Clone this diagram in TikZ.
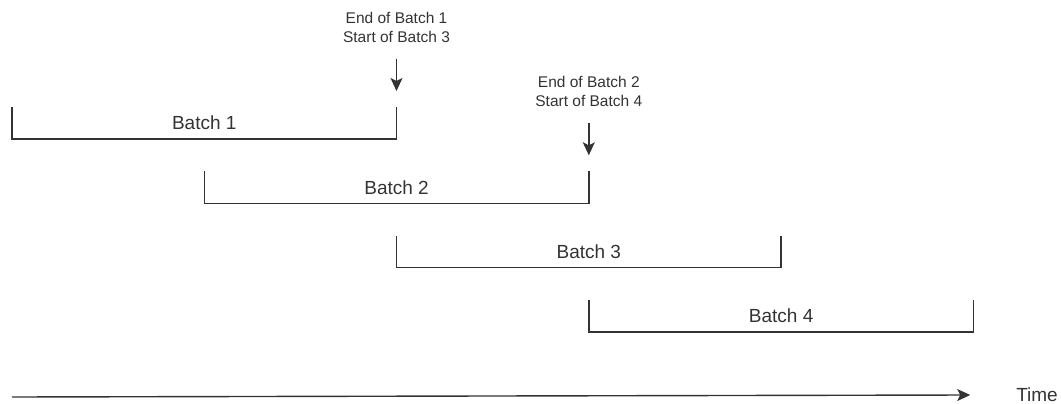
\documentclass[tikz,border=0pt]{standalone}
\usepackage{fontspec}
\setmainfont{Liberation Sans}
\usetikzlibrary{arrows.meta}

\begin{document}
\begin{tikzpicture}[x=1pt, y=-1pt, line width=1.4pt, color=black!80,
	batchlabel/.style={font=\fontsize{19}{23}\selectfont},
	marker/.style={font=\fontsize{15.5}{19}\selectfont, align=center},
	arrowtip/.style={-{Stealth[length=13pt, width=12pt, inset=3pt]}}]
	\useasboundingbox (0,0) rectangle (1061,404);
	%batches
	\foreach \i in {1,...,4}
	{
		\coordinate (start\i) at ({12+192.3*(\i-1)}, {107+64.3*(\i-1)});
		\draw (start\i) -- ++(0,32) -- ++(384.5,0) -- ++(0,-32) coordinate (end\i);
		\node[batchlabel] (batch\i) at ([shift={(192.25,16)}]start\i) {Batch \i};
	}
	%markers
	\node[marker] (mark1) at ([yshift=79.5pt]end1) {End of Batch 1\\Start of Batch 3};
	\node[marker] (mark2) at ([yshift=79.5pt]end2) {End of Batch 2\\Start of Batch 4};
	\foreach \i in {1,2}
	\draw[arrowtip] ([yshift=-12pt]mark\i.south) -- ([yshift=16pt]end\i);
	%time axis
	\coordinate (origin) at (12,397);
	\node[batchlabel] (time) at (1037,395) {Time};
	\draw[arrowtip] (origin) -- ([xshift=-42pt]time.west);
\end{tikzpicture}
\end{document}
